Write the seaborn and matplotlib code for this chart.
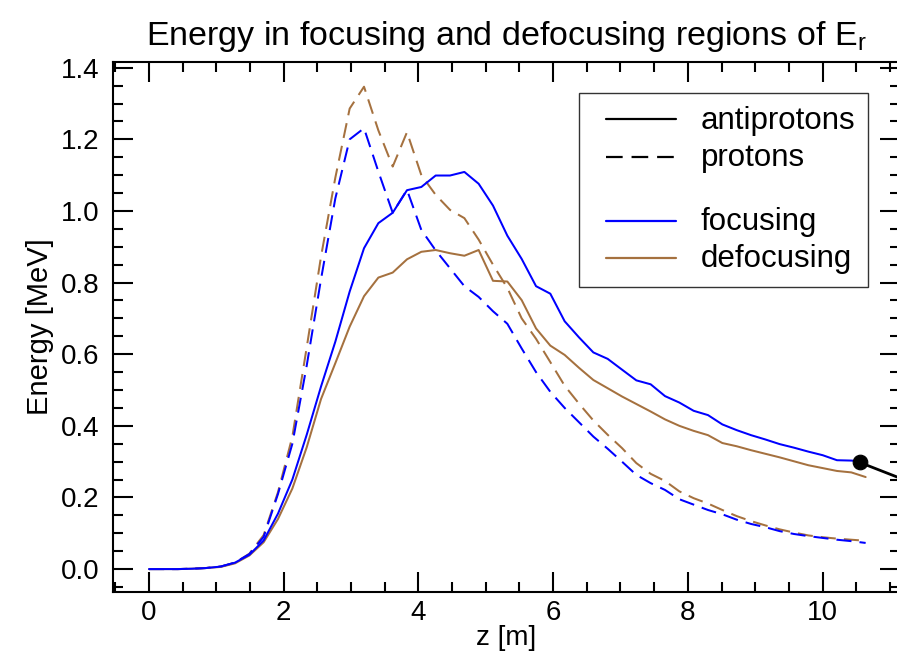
import matplotlib
matplotlib.use("Agg")
import matplotlib.pyplot as plt
from matplotlib.lines import Line2D
from matplotlib.legend_handler import HandlerLine2D
from matplotlib.ticker import MultipleLocator, FormatStrFormatter
import seaborn as sns
import pandas as pd

sns.set_style("white")
plt.rcParams['font.family'] = ['Liberation Sans', 'DejaVu Sans']
plt.rcParams['mathtext.fontset'] = 'custom'
plt.rcParams['mathtext.rm'] = 'Liberation Sans'
for key in ["text.color", "axes.labelcolor", "xtick.color", "ytick.color"]:
    plt.rcParams[key] = "black"

# ---- data ----
z = [0.000, 0.213, 0.426, 0.638, 0.851, 1.064, 1.277, 1.490, 1.702, 1.915,
     2.128, 2.341, 2.554, 2.766, 2.979, 3.192, 3.405, 3.618, 3.830, 4.043,
     4.256, 4.469, 4.682, 4.894, 5.107, 5.320, 5.533, 5.746, 5.958, 6.171,
     6.384, 6.597, 6.810, 7.022, 7.235, 7.448, 7.661, 7.874, 8.086, 8.299,
     8.512, 8.725, 8.938, 9.150, 9.363, 9.576, 9.789, 10.002, 10.214, 10.427,
     10.640]

focusing_antiprotons = [
    0.000, 0.000, 0.000, 0.001, 0.003, 0.007, 0.018, 0.040, 0.080, 0.155,
    0.250, 0.375, 0.510, 0.635, 0.775, 0.896, 0.966, 0.995, 1.058, 1.067,
    1.099, 1.099, 1.109, 1.076, 1.015, 0.931, 0.866, 0.790, 0.769, 0.692,
    0.647, 0.605, 0.587, 0.557, 0.527, 0.516, 0.483, 0.465, 0.442, 0.430,
    0.404, 0.388, 0.374, 0.362, 0.349, 0.339, 0.328, 0.318, 0.304, 0.303,
    0.300]

defocusing_antiprotons = [
    0.000, 0.000, 0.000, 0.001, 0.003, 0.006, 0.016, 0.038, 0.075, 0.140,
    0.225, 0.340, 0.475, 0.575, 0.677, 0.762, 0.814, 0.828, 0.865, 0.886,
    0.891, 0.882, 0.875, 0.891, 0.805, 0.803, 0.751, 0.672, 0.624, 0.598,
    0.562, 0.528, 0.505, 0.482, 0.461, 0.440, 0.418, 0.400, 0.386, 0.374,
    0.352, 0.343, 0.332, 0.322, 0.312, 0.301, 0.290, 0.282, 0.274, 0.270,
    0.257]

focusing_protons = [
    0.000, 0.000, 0.000, 0.001, 0.003, 0.007, 0.018, 0.042, 0.090, 0.210,
    0.350, 0.568, 0.810, 1.035, 1.200, 1.231, 1.110, 0.995, 1.059, 0.947,
    0.890, 0.840, 0.790, 0.760, 0.720, 0.685, 0.616, 0.550, 0.495, 0.450,
    0.410, 0.370, 0.336, 0.300, 0.263, 0.240, 0.221, 0.195, 0.180, 0.165,
    0.153, 0.138, 0.126, 0.117, 0.106, 0.098, 0.092, 0.087, 0.082, 0.078,
    0.073]

defocusing_protons = [
    0.000, 0.000, 0.000, 0.001, 0.003, 0.007, 0.018, 0.043, 0.095, 0.215,
    0.370, 0.619, 0.873, 1.093, 1.286, 1.347, 1.225, 1.124, 1.220, 1.100,
    1.045, 1.003, 0.980, 0.920, 0.850, 0.785, 0.700, 0.643, 0.578, 0.512,
    0.462, 0.415, 0.375, 0.338, 0.296, 0.266, 0.246, 0.217, 0.198, 0.183,
    0.165, 0.148, 0.134, 0.122, 0.111, 0.102, 0.094, 0.089, 0.085, 0.082,
    0.079]

# marker line (antiproton reference point)
marker_z = [10.55, 11.30]
marker_E = [0.298, 0.243]

legend_labels = ["antiprotons", "protons", "", "focusing", "defocusing"]
title = "Energy in focusing and defocusing regions of E$_\\mathregular{r}$"
xlabel = "z [m]"
ylabel = "Energy [MeV]"

BLUE = "#0000FF"
BROWN = "#A5713F"
DASH = (0, (7.5, 4))

df = pd.DataFrame({
    "z": z,
    "fa": focusing_antiprotons,
    "da": defocusing_antiprotons,
    "fp": focusing_protons,
    "dp": defocusing_protons,
})

fig = plt.figure(figsize=(8.97, 6.56), dpi=100)
ax = fig.add_axes([113 / 897, 64 / 656, 787 / 897, 530 / 656])

lw = 1.45
sns.lineplot(data=df, x="z", y="dp", ax=ax, color=BROWN, lw=lw, linestyle=DASH)
sns.lineplot(data=df, x="z", y="fp", ax=ax, color=BLUE, lw=lw, linestyle=DASH)
sns.lineplot(data=df, x="z", y="da", ax=ax, color=BROWN, lw=lw)
sns.lineplot(data=df, x="z", y="fa", ax=ax, color=BLUE, lw=lw)
sns.lineplot(x=marker_z, y=marker_E, ax=ax, color="black", lw=2.0)
sns.scatterplot(x=marker_z[:1], y=marker_E[:1], ax=ax, color="black", s=110,
                edgecolor="black", zorder=5)

ax.set_xlim(-0.535, 11.15)
ax.set_ylim(-0.064, 1.416)
ax.xaxis.set_major_locator(MultipleLocator(2))
ax.xaxis.set_minor_locator(MultipleLocator(0.5))
ax.yaxis.set_major_locator(MultipleLocator(0.2))
ax.yaxis.set_minor_locator(MultipleLocator(0.05))
ax.yaxis.set_major_formatter(FormatStrFormatter("%.1f"))
ax.xaxis.set_major_formatter(FormatStrFormatter("%d"))

for s in ax.spines.values():
    s.set_visible(True)
    s.set_linewidth(1.5)
    s.set_color("black")

ax.tick_params(which="both", direction="in", top=True, right=True,
               bottom=True, left=True, width=1.5, color="black")
ax.tick_params(which="major", length=14.5, labelsize=20)
ax.tick_params(which="minor", length=7.2)
ax.tick_params(axis="y", which="major", pad=10)
ax.tick_params(axis="x", which="major", pad=6)

ax.set_xlabel(xlabel, fontsize=20, labelpad=-1)
ax.set_ylabel(ylabel, fontsize=21, labelpad=5)
ax.set_title(title, fontsize=24.5, pad=12)

handles = [
    Line2D([], [], color="black", lw=1.6),
    Line2D([], [], color="black", lw=1.6, linestyle=DASH),
    Line2D([], [], color="none", lw=0),
    Line2D([], [], color=BLUE, lw=1.6),
    Line2D([], [], color=BROWN, lw=1.6),
]
leg = ax.legend(handles=handles, labels=legend_labels, loc="upper right",
                bbox_to_anchor=((868 - 113) / 787, 1 - (93 - 62) / 530),
                borderaxespad=0, fontsize=22.5, handlelength=2.7,
                handleheight=0.3, handletextpad=0.8, labelspacing=0.23,
                borderpad=0.4, frameon=True, fancybox=False,
                edgecolor="black",
                handler_map={Line2D: HandlerLine2D(xpad=0.45)})
leg.get_frame().set_linewidth(1.0)
leg.get_texts()[2].set_fontsize(6)

fig.savefig("out.png", dpi=100)
